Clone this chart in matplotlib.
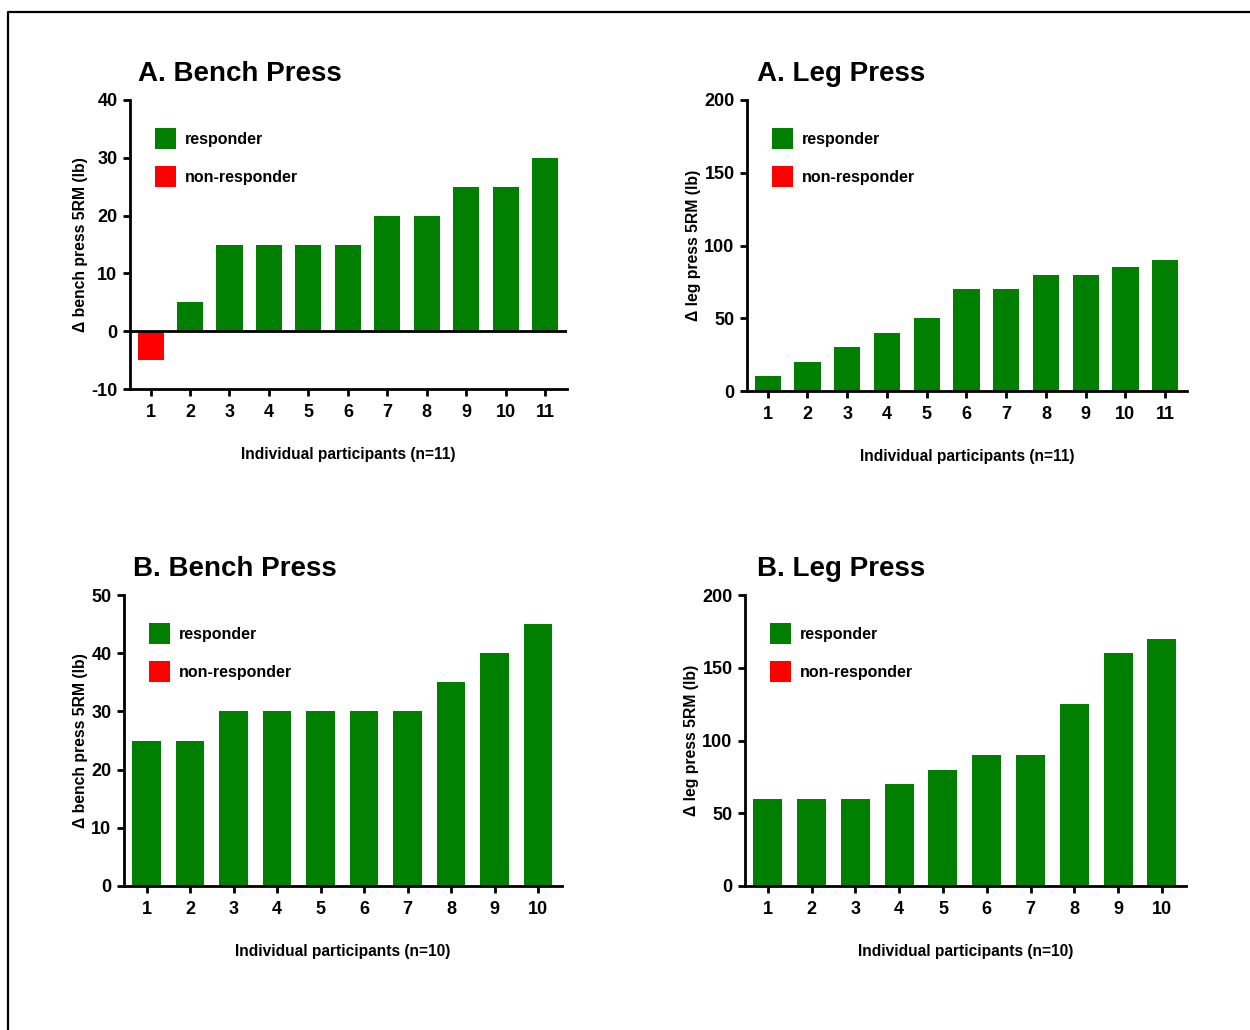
import matplotlib
matplotlib.use("Agg")
import matplotlib.pyplot as plt
from matplotlib.patches import Patch
from matplotlib.lines import Line2D

# ---- data ----
a_bench = [-5, 5, 15, 15, 15, 15, 20, 20, 25, 25, 30]
a_leg = [10, 20, 30, 40, 50, 70, 70, 80, 80, 85, 90]
b_bench = [25, 25, 30, 30, 30, 30, 30, 35, 40, 45]
b_leg = [60, 60, 60, 70, 80, 90, 90, 125, 160, 170]

a_bench_resp = [False] + [True] * 10
a_leg_resp = [True] * 11
b_bench_resp = [True] * 10
b_leg_resp = [True] * 10

titles = ["A. Bench Press", "A. Leg Press", "B. Bench Press", "B. Leg Press"]
ylabels = ["\u0394 bench press 5RM (lb)", "\u0394 leg press 5RM (lb)",
           "\u0394 bench press 5RM (lb)", "\u0394 leg press 5RM (lb)"]
xlabels = ["Individual participants (n=11)", "Individual participants (n=11)",
           "Individual participants (n=10)", "Individual participants (n=10)"]
yticks_list = [[-10, 0, 10, 20, 30, 40], [0, 50, 100, 150, 200],
               [0, 10, 20, 30, 40, 50], [0, 50, 100, 150, 200]]
legend_labels = ["responder", "non-responder"]

GREEN = "#007F00"
RED = "#FF0000"

plt.rcParams["font.family"] = ["Liberation Sans", "DejaVu Sans"]
plt.rcParams["font.weight"] = "bold"
plt.rcParams["axes.unicode_minus"] = False

W, H = 1250, 1030
fig = plt.figure(figsize=(W / 100, H / 100), dpi=100)

# axes rectangles in pixels: left, right, top, bottom
rects = [(130, 567, 100, 389), (747, 1187, 100, 391),
         (124, 562, 595, 886), (745, 1186, 595, 886)]
title_x = [138, 757, 133, 757]
title_y = [74, 74, 569, 569]

datasets = [(a_bench, a_bench_resp), (a_leg, a_leg_resp),
            (b_bench, b_bench_resp), (b_leg, b_leg_resp)]

LW = 2.0
LEG_FS = 11.5
for i, ((vals, resp), (l, r, t, b)) in enumerate(zip(datasets, rects)):
    ax = fig.add_axes([l / W, 1 - b / H, (r - l) / W, (b - t) / H])
    n = len(vals)
    xs = list(range(1, n + 1))
    colors = [GREEN if rr else RED for rr in resp]
    ax.bar(xs, vals, width=0.66, color=colors, edgecolor="none", zorder=2)
    yt = yticks_list[i]
    ax.set_ylim(yt[0], yt[-1])
    ax.set_xlim(0.48, n + 0.55)
    ax.set_yticks(yt)
    ax.set_xticks(xs)
    ax.set_xticklabels([str(x) for x in xs])
    for s in ["top", "right"]:
        ax.spines[s].set_visible(False)
    for s in ["left", "bottom"]:
        ax.spines[s].set_linewidth(LW)
    if yt[0] < 0:
        ax.axhline(0, color="black", lw=LW, zorder=3)
    ax.tick_params(axis="both", width=LW, length=5, labelsize=13, pad=4)
    ax.tick_params(axis="x", pad=5.5)
    for lab in ax.get_xticklabels() + ax.get_yticklabels():
        lab.set_fontweight("bold")
    ax.set_ylabel(ylabels[i], fontsize=11.3, fontweight="bold", labelpad=2.5)
    ax.set_xlabel(xlabels[i], fontsize=11.2, fontweight="bold", labelpad=19)
    handles = [Patch(facecolor=GREEN, edgecolor="none"),
               Patch(facecolor=RED, edgecolor="none")]
    leg_top = (b - (t + 28)) / (b - t)
    leg_left = 25 / (r - l)
    ax.legend(handles, legend_labels, loc="upper left",
              bbox_to_anchor=(leg_left, leg_top), frameon=False,
              borderpad=0, borderaxespad=0, handlelength=1.31,
              handleheight=1.64, handletextpad=0.56, labelspacing=1.06,
              prop={"size": LEG_FS, "weight": "bold"})
    fig.text(title_x[i] / W, 1 - title_y[i] / H, titles[i], fontsize=20,
             fontweight="bold", ha="left", va="center")

# frame lines (top and left)
fig.add_artist(Line2D([8 / W, 8 / W, 1.0], [0.0, 1 - 12 / H, 1 - 12 / H],
                      transform=fig.transFigure, color="black", lw=1.6))

fig.savefig("out.png", dpi=100, facecolor="white")
